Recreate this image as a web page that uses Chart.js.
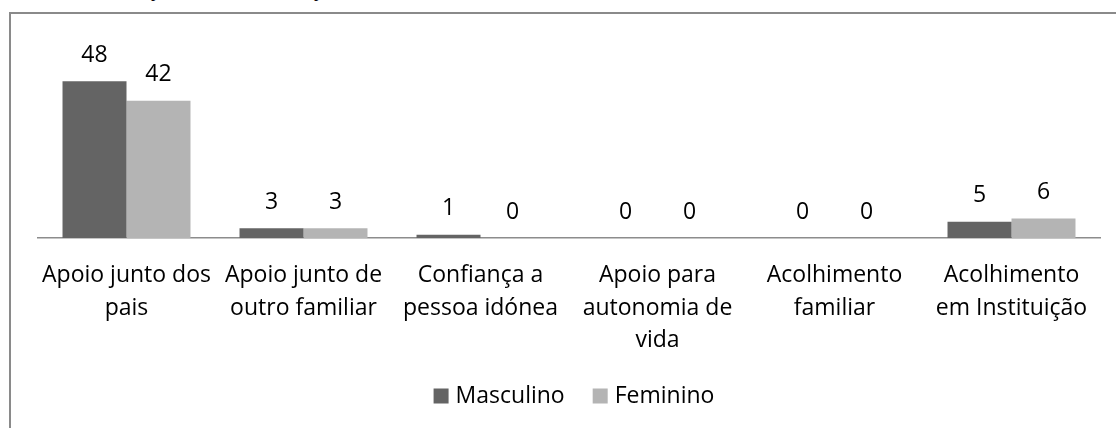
<!DOCTYPE html>
<html>
<head>
<meta charset="utf-8">
<script src="https://cdn.jsdelivr.net/npm/chart.js@4"></script>
<style>
  body { margin: 0; background: #fff; width: 1116px; height: 428px; overflow: hidden; position: relative; }
  .frame { position: absolute; left: 9px; top: 12px; width: 1200px; height: 500px; border: 2px solid #8a8a8a; }
  .cut { position: absolute; top: -18px; font: 17px "Liberation Serif", serif; color: #000; }
  canvas { position: absolute; left: 0; top: 0; }
</style>
</head>
<body>
<div class="cut" style="left:151px">p</div>
<div class="cut" style="left:314px">p</div>
<div class="frame"></div>
<canvas id="chart" width="1116" height="428"></canvas>
<script>
const categories = [
  ["Apoio junto dos", "pais"],
  ["Apoio junto de", "outro familiar"],
  ["Confiança a", "pessoa idónea"],
  ["Apoio para", "autonomia de", "vida"],
  ["Acolhimento", "familiar"],
  ["Acolhimento", "em Instituição"],
];
const masculino = [48, 3, 1, 0, 0, 5];
const feminino = [42, 3, 0, 0, 0, 6];

const FONT = '"Open Sans", sans-serif';

// value labels above each bar
const valueLabels = {
  id: "valueLabels",
  afterDatasetsDraw(chart) {
    const ctx = chart.ctx;
    ctx.save();
    ctx.font = `23px ${FONT}`;
    ctx.fillStyle = "#000";
    ctx.textAlign = "center";
    ctx.textBaseline = "middle";
    chart.data.datasets.forEach((ds, i) => {
      chart.getDatasetMeta(i).data.forEach((bar, j) => {
        ctx.fillText(`${ds.data[j]}`, bar.x, bar.y - 26);
      });
    });
    ctx.restore();
  },
};

// legend under the axis labels
const bottomLegend = {
  id: "bottomLegend",
  afterDraw(chart) {
    const ctx = chart.ctx;
    ctx.save();
    ctx.font = `23px ${FONT}`;
    ctx.textBaseline = "middle";
    const box = 15, gap = 7, space = 28;
    const items = chart.data.datasets.map((ds) => ({
      text: ds.label,
      color: ds.backgroundColor,
      w: box + gap + ctx.measureText(ds.label).width,
    }));
    const total = items.reduce((s, it) => s + it.w, 0) + space * (items.length - 1);
    let x = 574 - total / 2;
    const y = 396;
    items.forEach((it) => {
      ctx.fillStyle = it.color;
      ctx.fillRect(x, y - box / 2, box, box);
      ctx.fillStyle = "#000";
      ctx.fillText(it.text, x + box + gap, y);
      x += it.w + space;
    });
    ctx.restore();
  },
};

new Chart(document.getElementById("chart"), {
  type: "bar",
  data: {
    labels: categories,
    datasets: [
      { label: "Masculino", data: masculino, backgroundColor: "#646464" },
      { label: "Feminino", data: feminino, backgroundColor: "#b4b4b4" },
    ],
  },
  options: {
    responsive: false,
    devicePixelRatio: 1,
    animation: false,
    layout: { padding: { left: 38, right: 16, top: 42, bottom: 0 } },
    datasets: {
      bar: { categoryPercentage: 0.723, barPercentage: 1.0 },
    },
    plugins: {
      legend: { display: false },
      tooltip: { enabled: false },
    },
    scales: {
      y: { display: false, min: 0, max: 60 },
      x: {
        grid: { display: false, drawTicks: false },
        border: { display: true, color: "#8c8c8c", width: 1.5 },
        ticks: {
          color: "#000",
          font: { family: FONT, size: 23, lineHeight: 1.42 },
          padding: 21,
          maxRotation: 0,
          autoSkip: false,
        },
        afterFit: (s) => {
          s.height = 190;
        },
      },
    },
  },
  plugins: [valueLabels, bottomLegend],
});
</script>
</body>
</html>
